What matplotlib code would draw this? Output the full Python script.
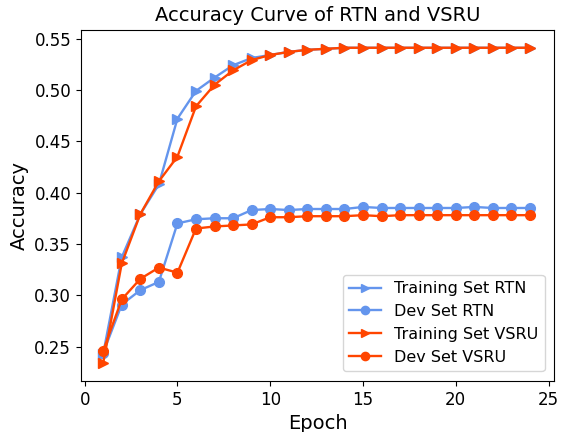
import matplotlib
matplotlib.use('Agg')
import matplotlib.pyplot as plt

epochs = list(range(1, 25))

train_rtn = [0.243, 0.337, 0.379, 0.408, 0.472, 0.499, 0.512, 0.524, 0.531, 0.534,
             0.537, 0.539, 0.540, 0.541, 0.541, 0.541, 0.541, 0.541, 0.541, 0.541,
             0.541, 0.541, 0.541, 0.541]
dev_rtn = [0.244, 0.291, 0.305, 0.313, 0.370, 0.374, 0.375, 0.375, 0.383, 0.384,
           0.383, 0.384, 0.384, 0.384, 0.386, 0.385, 0.385, 0.385, 0.385, 0.385,
           0.386, 0.385, 0.385, 0.385]
train_vsru = [0.234, 0.331, 0.379, 0.411, 0.435, 0.484, 0.505, 0.519, 0.529, 0.534,
              0.537, 0.539, 0.540, 0.541, 0.541, 0.541, 0.541, 0.541, 0.541, 0.541,
              0.541, 0.541, 0.541, 0.541]
dev_vsru = [0.246, 0.296, 0.316, 0.327, 0.322, 0.365, 0.367, 0.368, 0.369, 0.376,
            0.376, 0.377, 0.377, 0.377, 0.378, 0.377, 0.378, 0.378, 0.378, 0.378,
            0.378, 0.378, 0.378, 0.378]

BLUE = '#6495ED'
RED = '#FF4500'

fig = plt.figure(figsize=(5.62, 4.32), dpi=100)
ax = plt.subplot(111)

plt.plot(epochs, train_rtn, '>-', color=BLUE, markersize=7, lw=1.7, label='Training Set RTN')
plt.plot(epochs, dev_rtn, 'o-', color=BLUE, markersize=7, lw=1.7, label='Dev Set RTN')
plt.plot(epochs, train_vsru, '>-', color=RED, markersize=7, lw=1.7, label='Training Set VSRU')
plt.plot(epochs, dev_vsru, 'o-', color=RED, markersize=7, lw=1.7, label='Dev Set VSRU')

plt.title('Accuracy Curve of RTN and VSRU', fontsize=14)
plt.xlabel('Epoch', fontsize=14)
plt.ylabel('Accuracy', fontsize=14)
plt.xticks([0, 5, 10, 15, 20, 25], fontsize=12)
plt.yticks([0.25, 0.30, 0.35, 0.40, 0.45, 0.50, 0.55],
           ['0.25', '0.30', '0.35', '0.40', '0.45', '0.50', '0.55'], fontsize=12)
plt.xlim(-0.2, 25.3)
plt.ylim(0.2165, 0.5585)
plt.legend(loc=4, fontsize=11.5, borderaxespad=0.6, markerscale=0.85)

plt.subplots_adjust(left=0.144, right=0.986, top=0.931, bottom=0.118)
fig.savefig('out.png')
